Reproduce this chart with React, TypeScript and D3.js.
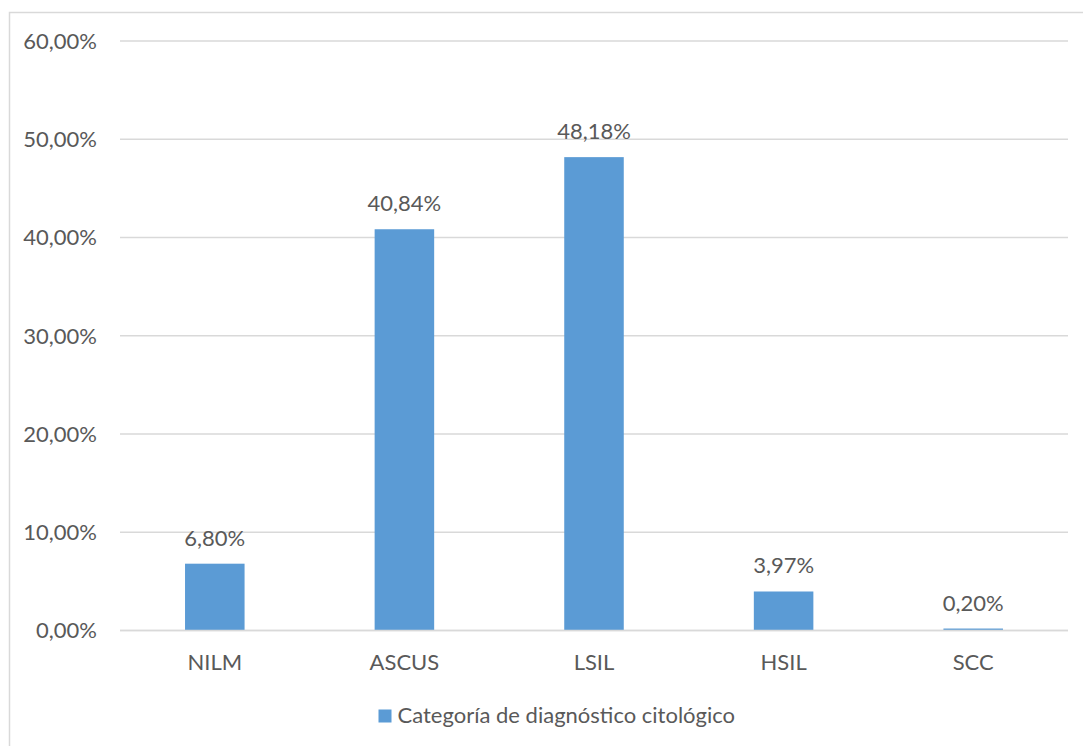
import React from "react";
import * as d3 from "d3";

// Cytology diagnostic categories and their share of cases (%)
const categories: string[] = ["NILM", "ASCUS", "LSIL", "HSIL", "SCC"];
const values: number[] = [6.8, 40.84, 48.18, 3.97, 0.2];
const yTicks: number[] = [0, 10, 20, 30, 40, 50, 60];
const seriesName = "Categoría de diagnóstico citológico";

const W = 1083;
const H = 746;
const FONT = "Lato, 'Open Sans', sans-serif";
const FS = 22;
const TEXT = "#595959";
const GRID = "#d9d9d9";
const BAR = "#5b9bd5";

const fmt = (v: number) => v.toFixed(2).replace(".", ",") + "%";

export default function App() {
  const x0 = 120;
  const x1 = 1068;
  const yTop = 41;
  const yBottom = 630.5;

  const x = d3.scaleBand<string>().domain(categories).range([x0, x1]).paddingInner(0.686).paddingOuter(0.343);
  const y = d3.scaleLinear().domain([0, 60]).range([yBottom, yTop]);

  return (
    <svg
      width={W}
      height={H}
      style={{ position: "absolute", left: 0, top: 0, background: "#fff" }}
      fontFamily={FONT}
    >
      <rect x={9.5} y={12.5} width={W + 20} height={H + 20} fill="#fff" stroke={GRID} strokeWidth={1.5} />

      {/* horizontal gridlines and value axis labels */}
      {yTicks.map((t) => (
        <g key={t}>
          <line x1={x0} x2={x1} y1={y(t)} y2={y(t)} stroke={GRID} strokeWidth={1.5} />
          <text x={97} y={y(t)} dy="0.36em" textAnchor="end" fontSize={FS} fill={TEXT}>
            {fmt(t)}
          </text>
        </g>
      ))}

      {/* bars with value labels */}
      {categories.map((c, i) => {
        const bx = x(c) as number;
        const bw = x.bandwidth();
        const v = values[i];
        return (
          <g key={c}>
            <rect x={bx} y={y(v)} width={bw} height={yBottom - y(v)} fill={BAR} />
            <text x={bx + bw / 2} y={y(v) - 18} textAnchor="middle" fontSize={FS} fill={TEXT}>
              {fmt(v)}
            </text>
            <text x={bx + bw / 2} y={670} textAnchor="middle" fontSize={FS} fill={TEXT}>
              {c}
            </text>
          </g>
        );
      })}

      {/* redraw the baseline above the bars */}
      <line x1={x0} x2={x1} y1={yBottom} y2={yBottom} stroke={GRID} strokeWidth={1.5} />

      {/* legend */}
      <rect x={378.5} y={709.5} width={13} height={13} fill={BAR} />
      <text x={397.5} y={723} fontSize={FS} fill={TEXT}>
        {seriesName}
      </text>
    </svg>
  );
}
